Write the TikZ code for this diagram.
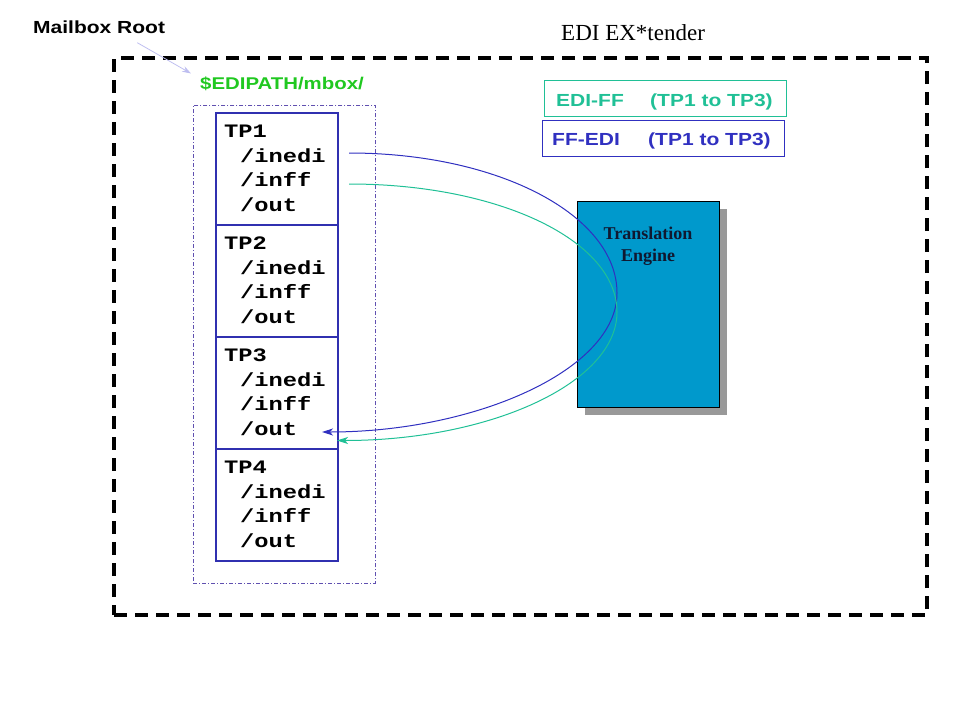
\documentclass[tikz,border=0pt]{standalone}
\usepackage{fontspec}
\setmainfont{Liberation Serif}
\newfontfamily\arialfont[FakeStretch=1.2]{Liberation Sans}
\newfontfamily\courfont[FakeStretch=1.25]{Liberation Mono}
\usetikzlibrary{arrows.meta,shadows,positioning}

\definecolor{tpblue}{RGB}{48,48,176}
\definecolor{ffediblue}{RGB}{48,48,192}
\definecolor{edifgreen}{RGB}{32,192,150}
\definecolor{pathgreen}{RGB}{32,200,32}
\definecolor{engineblue}{RGB}{0,153,204}
\definecolor{enginetext}{RGB}{16,24,48}
\definecolor{mboxpurple}{RGB}{96,80,176}
\definecolor{rootlav}{RGB}{190,190,240}

\tikzset{
  txt/.style={inner sep=0pt, anchor=base west},
  tpbox/.style={draw=tpblue, line width=1.8pt, anchor=north west,
    minimum width=122pt, minimum height=112pt, inner sep=0pt},
  tptext/.style={txt, font=\courfont\bfseries\fontsize{19}{22}\selectfont},
  legendbox/.style={line width=1.2pt, anchor=north west,
    minimum width=242pt, minimum height=36pt, inner sep=0pt},
  legendtext/.style={txt, font=\arialfont\bfseries\fontsize{17.5}{20}\selectfont},
  flow/.style={line width=1pt, -{Stealth[length=11pt,width=7pt,inset=3pt]}},
}

\begin{document}
\begin{tikzpicture}[x=1pt,y=-1pt]
  \useasboundingbox (0,0) rectangle (960,720);

  % outer EX*tender frame
  \node[draw, line width=3.3pt, dash pattern=on 13pt off 8pt,
    minimum width=813pt, minimum height=557pt, inner sep=0pt]
    (extbox) at (520.5,336.5) {};
  \node[txt, font=\fontsize{23}{26}\selectfont] (extender) at (561,40.7) {EDI EX*tender};

  % mailbox root
  \node[txt, font=\arialfont\bfseries\fontsize{17.5}{20}\selectfont] (root) at (33,33.3) {Mailbox Root};
  \node[txt, text=pathgreen, font=\arialfont\bfseries\fontsize{17}{20}\selectfont] (mboxpath) at (200,89.3) {\$EDIPATH/mbox/};
  \draw[rootlav, line width=0.8pt, -{Stealth[length=9pt,width=6pt]}]
    ([shift={(-28pt,-9pt)}]root.south east) -- ([shift={(-9pt,3pt)}]mboxpath.north west);
  \node[draw=mboxpurple, line width=0.8pt, dash pattern=on 4pt off 2pt on 1pt off 2pt,
    minimum width=182pt, minimum height=478pt, inner sep=0pt, anchor=north west]
    (mbox) at (193,105) {};

  % trading partner folders
  \foreach \i/\y in {1/112,2/224,3/336,4/448}{
    \node[tpbox] (tp\i) at (215,\y) {};
    \node[tptext] (tp\i-name) at (224,\y+25) {TP\i};
    \node[tptext] (tp\i-inedi) at (240,\y+50.3) {/inedi};
    \node[tptext] (tp\i-inff) at (240,\y+74.8) {/inff};
    \node[tptext] (tp\i-out) at (240,\y+99.3) {/out};
  }

  % legend
  \node[legendbox, draw=edifgreen] (ediff) at (544,80) {};
  \node[legendtext, text=edifgreen] (ediff-text) at (556,106) {\makebox[94pt][l]{EDI-FF}(TP1 to TP3)};
  \node[legendbox, draw=ffediblue] (ffedi) at (542,120) {};
  \node[legendtext, text=ffediblue] (ffedi-text) at (552,145) {\makebox[96pt][l]{FF-EDI}(TP1 to TP3)};

  % translation engine
  \node[draw=black, fill=engineblue, line width=0.8pt,
    minimum width=142pt, minimum height=206pt, inner sep=0pt,
    drop shadow={shadow xshift=8pt, shadow yshift=-8pt, fill=black!40, opacity=1}]
    (engine) at (648,304) {};
  \node[text=enginetext, align=center, anchor=north, inner sep=0pt,
    font=\bfseries\fontsize{18}{21.7}\selectfont]
    (engine-text) at (engine.north |- 0,227) {Translation\\Engine};

  % flows through the engine
  \coordinate (inedi-start) at (349,153);
  \coordinate (inff-start) at (349,184);
  \coordinate (ffedi-end) at (322,432);
  \coordinate (ediff-end) at (337,440.5);
  \draw[flow, ffediblue] (inedi-start) .. controls (500,153) and (617,216) .. (617,293)
    .. controls (617,370) and (475,432) .. (ffedi-end);
  \draw[flow, edifgreen] (inff-start) .. controls (500,184) and (617,241) .. (617,312)
    .. controls (617,383) and (490,440.5) .. (ediff-end);
\end{tikzpicture}
\end{document}
